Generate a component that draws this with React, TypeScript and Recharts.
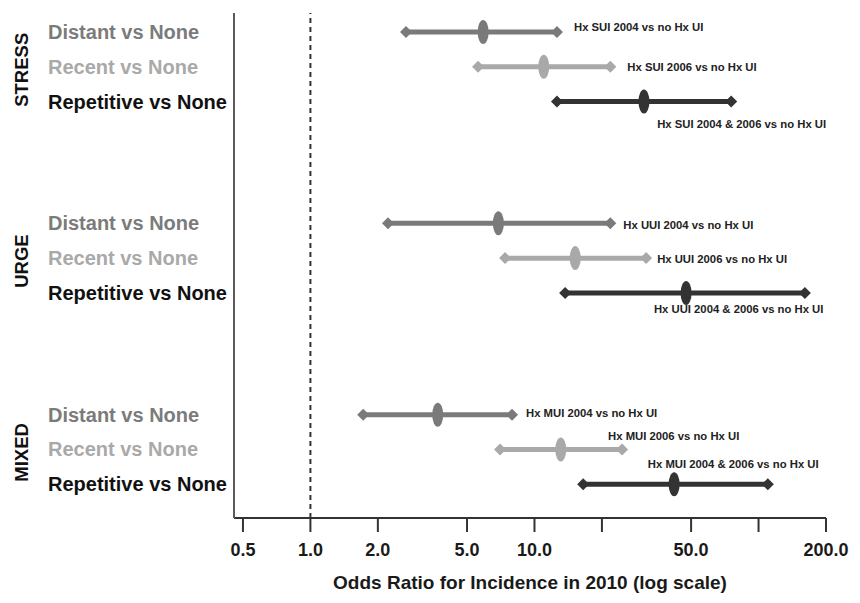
import React from "react";
import { ComposedChart, Scatter, XAxis, YAxis, ReferenceLine } from "recharts";

const groups = ["STRESS", "URGE", "MIXED"];
const comparisons = ["Distant vs None", "Recent vs None", "Repetitive vs None"];

// odds ratios and 95% CI, row order: stress, urge, mixed x distant, recent, repetitive
const estimates = [5.9, 11.0, 30.8, 6.9, 15.2, 47.5, 3.7, 13.1, 42.0];
const lower = [2.67, 5.6, 12.6, 2.22, 7.39, 13.7, 1.72, 7.02, 16.5];
const upper = [12.6, 21.8, 75.5, 21.8, 31.5, 161, 7.94, 24.6, 110];

const annotations = [
  "Hx SUI 2004 vs no Hx UI",
  "Hx SUI 2006 vs no Hx UI",
  "Hx SUI 2004 & 2006 vs no Hx UI",
  "Hx UUI 2004 vs no Hx UI",
  "Hx UUI 2006 vs no Hx UI",
  "Hx UUI 2004 & 2006 vs no Hx UI",
  "Hx MUI 2004 vs no Hx UI",
  "Hx MUI 2006 vs no Hx UI",
  "Hx MUI 2004 & 2006 vs no Hx UI",
];

const xTicks = [0.5, 1, 2, 5, 10, 20, 50, 100, 200];
const xTickLabels = ["0.5", "1.0", "2.0", "5.0", "10.0", "", "50.0", "", "200.0"];

const FONT = "'Liberation Sans', Arial, sans-serif";
const GROUP_STEP = 5.5;
const rowColors = ["#7a7a7a", "#a9a9a9", "#333333"];
const labelColors = ["#7b7b7b", "#a9a9a9", "#111111"];
// annotation offset from the upper-CI diamond (px)
const annoOffset = [
  [17, -5], [17, 0], [-74, 22],
  [13, 2], [11, 1], [-151, 16],
  [14, -2], [-14, -13], [-120, -20],
];

const rows = estimates.map((est, i) => {
  const g = Math.floor(i / 3);
  const r = i % 3;
  return { i, g, r, pos: g * GROUP_STEP + r, est, lo: lower[i], hi: upper[i] };
});
const yTicks = rows.map((d) => d.pos);

const Diamond = (props: any) => {
  const { cx, cy, payload } = props;
  const row = rows[payload.i];
  const c = rowColors[row.r];
  const off = annoOffset[row.i];
  return (
    <g>
      <polygon
        points={`${cx - 6},${cy} ${cx},${cy - 6} ${cx + 6},${cy} ${cx},${cy + 6}`}
        fill={c}
      />
      {payload.end === "hi" && (
        <text
          x={cx + off[0]}
          y={cy + off[1]}
          dy="0.35em"
          fontFamily={FONT}
          fontSize={11.3}
          fontWeight={700}
          fill="#222"
        >
          {annotations[row.i]}
        </text>
      )}
    </g>
  );
};

const Ellipse = (props: any) => {
  const { cx, cy, payload } = props;
  return <ellipse cx={cx} cy={cy} rx={5.5} ry={12} fill={rowColors[rows[payload.i].r]} />;
};

const RowTick = (props: any) => {
  const { y, index } = props;
  const row = rows[index];
  if (!row) return null;
  return (
    <g>
      <text
        x={40}
        y={y}
        dy="0.35em"
        fontFamily={FONT}
        fontSize={20}
        fontWeight={700}
        fill={labelColors[row.r]}
      >
        {comparisons[row.r]}
      </text>
      {row.r === 1 && (
        <text
          transform={`translate(14, ${y + 3}) rotate(-90)`}
          textAnchor="middle"
          dy="0.35em"
          fontFamily={FONT}
          fontSize={18.5}
          fontWeight={700}
          fill="#111"
        >
          {groups[row.g]}
        </text>
      )}
    </g>
  );
};

export default function App() {
  return (
    <div style={{ fontFamily: FONT }}>
      <ComposedChart width={844} height={590} margin={{ top: 5, right: 26, bottom: 5, left: 0 }}>
        <XAxis
          type="number"
          dataKey="or"
          scale="log"
          domain={[0.456, 200]}
          allowDataOverflow
          ticks={xTicks}
          interval={0}
          tickFormatter={(v: number) => xTickLabels[xTicks.indexOf(v)] ?? ""}
          tickSize={14}
          tickMargin={11}
          height={75}
          axisLine={{ stroke: "#333", strokeWidth: 2 }}
          tickLine={{ stroke: "#333", strokeWidth: 2 }}
          tick={{ fill: "#1a1a1a", fontSize: 18, fontWeight: 700, fontFamily: FONT }}
          label={{
            value: "Odds Ratio for Incidence in 2010 (log scale)",
            position: "insideBottom",
            offset: 4,
            fill: "#1a1a1a",
            fontSize: 19,
            fontWeight: 700,
            fontFamily: FONT,
          }}
        />
        <YAxis
          type="number"
          dataKey="pos"
          domain={[-0.546, 13.97]}
          reversed
          allowDataOverflow
          ticks={yTicks}
          interval={0}
          width={226}
          tickLine={false}
          axisLine={{ stroke: "#5a5a5a", strokeWidth: 2 }}
          tick={<RowTick />}
        />
        <ReferenceLine x={1} stroke="#333" strokeWidth={2} strokeDasharray="5 4" />
        {rows.map((row) => (
          <Scatter
            key={`ci-${row.i}`}
            data={[
              { or: row.lo, pos: row.pos, i: row.i, end: "lo" },
              { or: row.hi, pos: row.pos, i: row.i, end: "hi" },
            ]}
            line={{ stroke: rowColors[row.r], strokeWidth: 5 }}
            lineType="joint"
            shape={<Diamond />}
            isAnimationActive={false}
          />
        ))}
        {rows.map((row) => (
          <Scatter
            key={`est-${row.i}`}
            data={[{ or: row.est, pos: row.pos, i: row.i }]}
            shape={<Ellipse />}
            isAnimationActive={false}
          />
        ))}
      </ComposedChart>
    </div>
  );
}
